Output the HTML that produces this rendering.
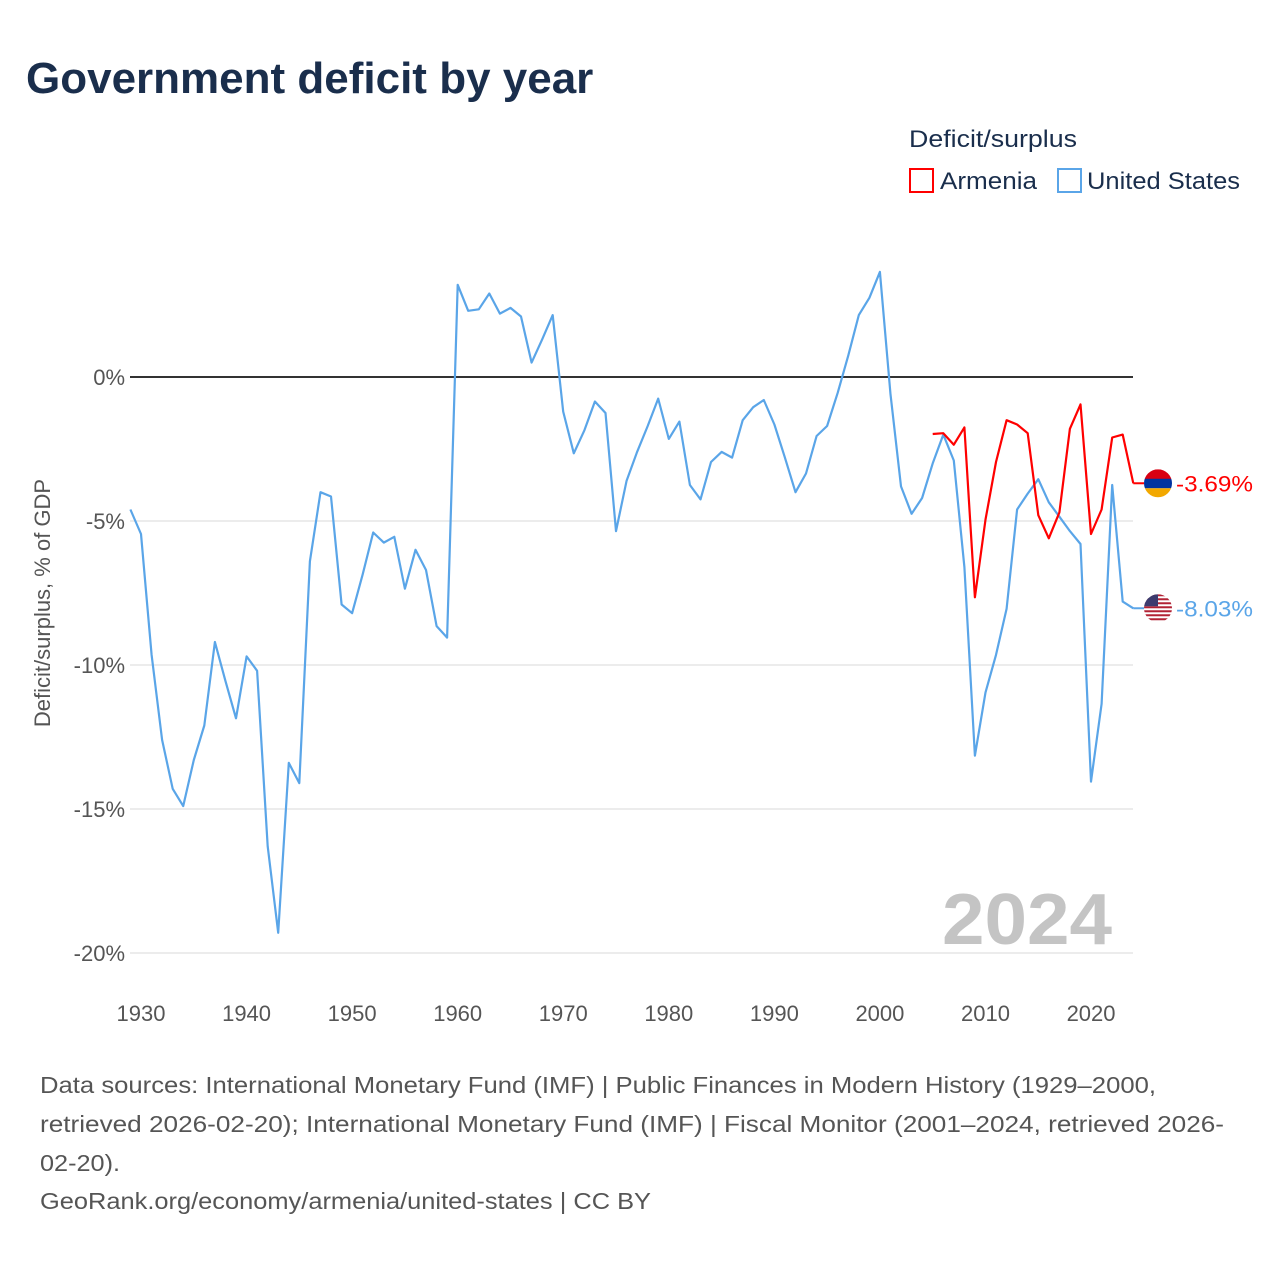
<!DOCTYPE html>
<html><head><meta charset="utf-8">
<style>
body{margin:0;background:#fff;font-family:"Liberation Sans",sans-serif;}
#wrap{position:relative;width:1280px;height:1280px;}
</style></head>
<body>
<div id="wrap">
<svg id="chart" width="1280" height="1280" xmlns="http://www.w3.org/2000/svg">
<text x="26" y="93" font-size="44" font-weight="bold" fill="#1a2e4c">Government deficit by year</text>
<text x="909" y="147" font-size="24" fill="#1a2e4c" textLength="168" lengthAdjust="spacingAndGlyphs">Deficit/surplus</text>
<g>
<rect x="910" y="169" width="23" height="23" fill="#fff" stroke="#f00" stroke-width="2"/>
<text x="940" y="189" font-size="24" fill="#1a2e4c" textLength="97" lengthAdjust="spacingAndGlyphs">Armenia</text></g>
<g>
<rect x="1058" y="169" width="23" height="23" fill="#fff" stroke="#5aa5e8" stroke-width="2"/>
<text x="1087" y="189" font-size="24" fill="#1a2e4c" textLength="153" lengthAdjust="spacingAndGlyphs">United States</text></g>
<g id="grid"></g>
<g id="series"></g>
<text x="942" y="944" font-size="72" font-weight="bold" fill="#c4c4c4" textLength="170" lengthAdjust="spacingAndGlyphs">2024</text>
<text transform="translate(50,603) rotate(-90)" font-size="22" fill="#555" text-anchor="middle">Deficit/surplus, % of GDP</text>
<g font-size="23" fill="#555" lengthAdjust="spacingAndGlyphs">
<text x="40" y="1093" textLength="1116" lengthAdjust="spacingAndGlyphs">Data sources: International Monetary Fund (IMF) | Public Finances in Modern History (1929–2000,</text>
<text x="40" y="1132" textLength="1184" lengthAdjust="spacingAndGlyphs">retrieved 2026-02-20); International Monetary Fund (IMF) | Fiscal Monitor (2001–2024, retrieved 2026-</text>
<text x="40" y="1171" textLength="80" lengthAdjust="spacingAndGlyphs">02-20).</text>
<text x="40" y="1209" textLength="611" lengthAdjust="spacingAndGlyphs">GeoRank.org/economy/armenia/united-states | CC BY</text>
</g>
</svg>
</div>
<script>
const yTicks=[0,-5,-10,-15,-20];
const xTicks=[1930,1940,1950,1960,1970,1980,1990,2000,2010,2020];
const usYears=[];for(let y=1929;y<=2024;y++)usYears.push(y);
const usValues=[-4.6,-5.45,-9.65,-12.6,-14.3,-14.9,-13.3,-12.1,-9.2,-10.55,-11.85,-9.7,-10.2,-16.3,-19.3,-13.4,-14.1,-6.4,-4.0,-4.15,-7.9,-8.2,-6.85,-5.4,-5.75,-5.55,-7.35,-6.0,-6.7,-8.65,-9.05,3.2,2.3,2.35,2.9,2.2,2.4,2.1,0.5,1.3,2.15,-1.2,-2.65,-1.85,-0.85,-1.25,-5.35,-3.6,-2.6,-1.7,-0.75,-2.15,-1.55,-3.75,-4.25,-2.95,-2.6,-2.8,-1.5,-1.05,-0.8,-1.65,-2.8,-4.0,-3.35,-2.05,-1.7,-0.55,0.75,2.15,2.75,3.65,-0.6,-3.8,-4.75,-4.2,-3.0,-2.0,-2.9,-6.6,-13.15,-10.95,-9.65,-8.05,-4.6,-4.05,-3.55,-4.35,-4.85,-5.35,-5.8,-14.05,-11.35,-3.75,-7.8,-8.03];
const amYears=[];for(let y=2005;y<=2024;y++)amYears.push(y);
const amValues=[-1.98,-1.95,-2.35,-1.75,-7.65,-4.95,-2.95,-1.5,-1.65,-1.95,-4.8,-5.6,-4.7,-1.8,-0.95,-5.45,-4.6,-2.1,-2.0,-3.69];
const NS="http://www.w3.org/2000/svg";
const X=y=>141+(y-1930)*10.556;
const Y=v=>377-v*28.8;
const grid=document.getElementById('grid'),ser=document.getElementById('series');
function mk(t,a,p){const e=document.createElementNS(NS,t);for(const k in a)e.setAttribute(k,a[k]);p.appendChild(e);return e;}
yTicks.forEach(v=>{
 const l=mk('line',{x1:130,x2:1133,y1:Y(v),y2:Y(v),stroke:v===0?'#333':'#e6e6e6','stroke-width':v===0?2:1.5},grid);
 
 
 const t=mk('text',{x:125,y:Y(v)+8,'text-anchor':'end','font-size':22,fill:'#555'},grid);
 t.textContent=v+'%';
 
 
});
xTicks.forEach(yr=>{
 const t=mk('text',{x:X(yr),y:1021,'text-anchor':'middle','font-size':22,fill:'#555'},grid);
 t.textContent=yr;
 
 
});
function line(ys,vs,c,name){
 const d=ys.map((y,i)=>(i?'L':'M')+X(y).toFixed(1)+','+Y(vs[i]).toFixed(1)).join('');
 const p=mk('path',{d:d,fill:'none',stroke:c,'stroke-width':2.2,'stroke-linejoin':'round'},ser);
 
 
}
line(usYears,usValues,'#5aa5e8','us-line');
line(amYears,amValues,'#f00','armenia-line');
function endLabel(ys,vs,c,name,flag){
 const ly=Y(vs[vs.length-1]);
 mk('line',{x1:X(ys[ys.length-1]),x2:1144,y1:ly,y2:ly,stroke:c,'stroke-width':2},ser);
 const g=mk('g',{},ser);
 
 
 const cx=1158;
 const cp=mk('clipPath',{id:'cp'+name},g);mk('circle',{cx:cx,cy:ly,r:14},cp);
 const gg=mk('g',{'clip-path':'url(#cp'+name+')'},g);
 if(flag==='am'){
  mk('rect',{x:cx-14,y:ly-14,width:28,height:10,fill:'#d90012'},gg);
  mk('rect',{x:cx-14,y:ly-4.5,width:28,height:9.5,fill:'#0033a0'},gg);
  mk('rect',{x:cx-14,y:ly+5,width:28,height:10,fill:'#f2a800'},gg);
 }else{
  for(let i=0;i<7;i++)mk('rect',{x:cx-14,y:ly-14+i*4,width:28,height:2,fill:'#b22234'},gg);
  mk('rect',{x:cx-14,y:ly-14,width:14,height:12,fill:'#3c3b6e'},gg);
 }
 const t=mk('text',{x:1176,y:ly+8,'font-size':22,fill:c,textLength:77,lengthAdjust:'spacingAndGlyphs'},ser);
 t.textContent=vs[vs.length-1].toFixed(2)+'%';
 
 
}
endLabel(amYears,amValues,'#f00','armenia','am');
endLabel(usYears,usValues,'#5aa5e8','us','us');
</script>
</body></html>
